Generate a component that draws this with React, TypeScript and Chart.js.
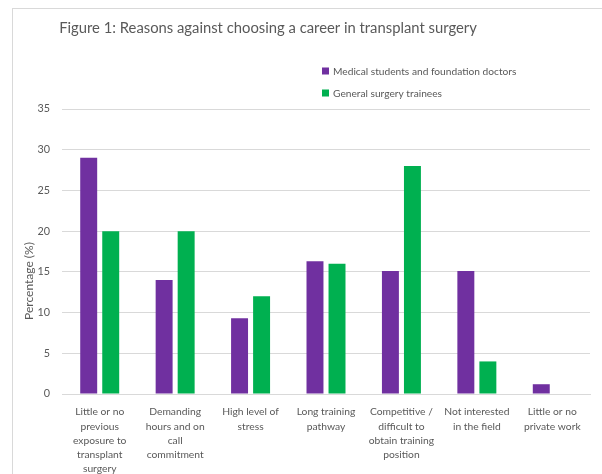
import React, { useEffect, useRef } from "react";
import { Chart, registerables } from "chart.js";

Chart.register(...registerables);

const chartTitle = "Figure 1: Reasons against choosing a career in transplant surgery";
const yAxisTitle = "Percentage (%)";
const categories: string[][] = [
  ["Little or no", "previous", "exposure to", "transplant", "surgery"],
  ["Demanding", "hours and on", "call", "commitment"],
  ["High level of", "stress"],
  ["Long training", "pathway"],
  ["Competitive /", "difficult to", "obtain training", "position"],
  ["Not interested", "in the field"],
  ["Little or no", "private work"],
];
const seriesNames = ["Medical students and foundation doctors", "General surgery trainees"];
const medicalStudents = [29, 14, 9.3, 16.3, 15.1, 15.1, 1.2];
const surgeryTrainees = [20, 20, 12, 16, 28, 4, 0];
const yMin = 0;
const yMax = 35;
const yStep = 5;

const PURPLE = "#7030A0";
const GREEN = "#00B050";
const TEXT = "#595959";
const GRID = "#D9D9D9";
const FONT = "Lato, sans-serif";

const overlayPlugin = {
  id: "overlay",
  afterDraw(chart: any) {
    const ctx = chart.ctx as CanvasRenderingContext2D;
    ctx.save();
    ctx.fillStyle = TEXT;
    ctx.font = `14.8px ${FONT}`;
    ctx.textAlign = "center";
    ctx.textBaseline = "middle";
    ctx.fillText(chartTitle, 268, 28);
    // y axis title
    ctx.save();
    ctx.translate(29, 281);
    ctx.rotate(-Math.PI / 2);
    ctx.font = `12px ${FONT}`;
    ctx.fillText(yAxisTitle, 0, 0);
    ctx.restore();
    // legend
    ctx.font = `10.2px ${FONT}`;
    ctx.textAlign = "left";
    chart.data.datasets.forEach((ds: any, i: number) => {
      const y = 71 + i * 22;
      ctx.fillStyle = ds.backgroundColor;
      ctx.fillRect(322, y - 3.5, 7, 7);
      ctx.fillStyle = TEXT;
      ctx.fillText(ds.label, 333, y + 0.5);
    });
    ctx.restore();
  },
};

export default function App() {
  const ref = useRef<HTMLCanvasElement>(null);
  useEffect(() => {
    if (!ref.current) return;
    const chart = new Chart(ref.current, {
      type: "bar",
      data: {
        labels: categories,
        datasets: [
          { label: seriesNames[0], data: medicalStudents, backgroundColor: PURPLE },
          { label: seriesNames[1], data: surgeryTrainees, backgroundColor: GREEN },
        ],
      },
      options: {
        animation: false,
        responsive: false,
        devicePixelRatio: 1,
        layout: { padding: { top: 109, left: 0, right: 12, bottom: 0 } },
        datasets: { bar: { categoryPercentage: 0.584, barPercentage: 0.77 } } as any,
        plugins: {
          legend: { display: false },
          title: { display: false },
          tooltip: { enabled: false },
        },
        scales: {
          x: {
            grid: { display: false, drawTicks: false },
            border: { display: true, color: GRID, width: 1 },
            ticks: {
              color: TEXT,
              font: { family: FONT, size: 10.3, lineHeight: 1.38 },
              padding: 11,
              maxRotation: 0,
              autoSkip: false,
            },
            afterFit: (scale: any) => {
              scale.height = 96;
            },
          },
          y: {
            min: yMin,
            max: yMax,
            ticks: {
              stepSize: yStep,
              color: TEXT,
              font: { family: FONT, size: 10.8 },
              padding: 12,
            },
            grid: { color: GRID, drawTicks: false, lineWidth: 1 },
            border: { display: false },
            afterFit: (scale: any) => {
              scale.width = 62;
            },
          },
        },
      },
      plugins: [overlayPlugin],
    });
    return () => chart.destroy();
  }, []);

  return (
    <div
      style={{
        position: "fixed",
        left: 0,
        top: 0,
        width: 602,
        height: 474,
        overflow: "hidden",
        background: "#fff",
      }}
    >
      <div
        style={{
          position: "absolute",
          left: 12,
          top: 8,
          width: 700,
          height: 600,
          border: `1px solid ${GRID}`,
        }}
      />
      <canvas ref={ref} width={602} height={490} style={{ position: "absolute", left: 0, top: 0 }} />
    </div>
  );
}
